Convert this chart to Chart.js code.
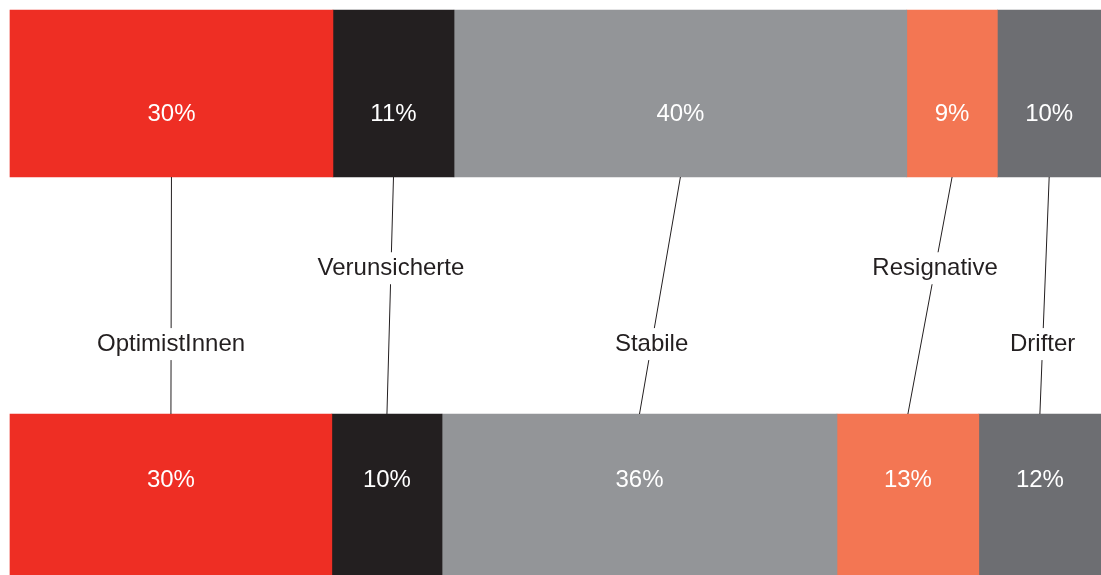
<!DOCTYPE html>
<html lang="de">
<head>
<meta charset="utf-8">
<title>Typen im Vergleich</title>
<script src="https://cdn.jsdelivr.net/npm/chart.js@4/dist/chart.umd.min.js"></script>
<style>
  html, body { margin: 0; padding: 0; background: #fff; }
  #wrap { width: 1101px; height: 575px; position: relative; }
</style>
</head>
<body>
<div id="wrap"><canvas id="chart"></canvas></div>
<script>
// ── Data ──────────────────────────────────────────────────────────────────────
const waves      = ['Erhebung 1', 'Erhebung 2'];
const types      = ['OptimistInnen', 'Verunsicherte', 'Stabile', 'Resignative', 'Drifter'];
// segment shares (top bar / bottom bar)
const sharesTop    = [29.6, 11.1, 41.5, 8.3, 9.5];
const sharesBottom = [29.5, 10.1, 36.2, 13.0, 11.2];
// printed labels
const labelsTop    = ['30%', '11%', '40%', '9%', '10%'];
const labelsBottom = ['30%', '10%', '36%', '13%', '12%'];
const colors = ['#ee2e24', '#231f20', '#939598', '#f37653', '#6d6e72'];

const FONT = '"Liberation Sans", Arial, Helvetica, sans-serif';

// ── Plugin: values inside bars, connectors + type names between bars ─────────
const connectorPlugin = {
  id: 'connectors',
  afterDatasetsDraw(chart) {
    const ctx = chart.ctx;
    const printed = [labelsTop, labelsBottom];
    ctx.save();
    ctx.textAlign = 'center';
    ctx.textBaseline = 'middle';
    ctx.font = '24px ' + FONT;

    // connectors
    chart.data.datasets.forEach((ds, i) => {
      const meta = chart.getDatasetMeta(i);
      const top = meta.data[0], bot = meta.data[1];
      const x0 = (top.x + top.base) / 2, y0 = top.y + top.height / 2;
      const x1 = (bot.x + bot.base) / 2, y1 = bot.y - bot.height / 2;
      ctx.strokeStyle = '#231f20';
      ctx.lineWidth = 1;
      ctx.beginPath();
      ctx.moveTo(x0, y0);
      ctx.lineTo(x1, y1);
      ctx.stroke();

      const t = i % 2 === 0 ? 0.705 : 0.385;
      const lx = x0 + (x1 - x0) * t;
      const ly = y0 + (y1 - y0) * t;
      const w = ctx.measureText(types[i]).width;
      ctx.fillStyle = '#fff';
      ctx.fillRect(lx - w / 2 - 4, ly - 16, w + 8, 32);
      ctx.fillStyle = '#231f20';
      ctx.fillText(types[i], lx, ly);
    });

    // values inside bars, nudged toward the middle
    chart.data.datasets.forEach((ds, i) => {
      const meta = chart.getDatasetMeta(i);
      meta.data.forEach((el, j) => {
        const dy = j === 0 ? 21 : -17;
        ctx.fillStyle = '#fff';
        ctx.fillText(printed[j][i], (el.x + el.base) / 2, el.y + dy);
      });
    });
    ctx.restore();
  }
};

// ── Chart ─────────────────────────────────────────────────────────────────────
new Chart(document.getElementById('chart').getContext('2d'), {
  type: 'bar',
  data: {
    labels: waves,
    datasets: types.map((name, i) => ({
      label: name,
      data: [sharesTop[i], sharesBottom[i]],
      backgroundColor: colors[i],
      borderWidth: 0,
      barThickness: 167,
      clip: false
    }))
  },
  options: {
    indexAxis: 'y',
    responsive: true,
    maintainAspectRatio: false,
    animation: false,
    layout: { padding: { left: 10, right: 0, top: 93.5, bottom: 77.5 } },
    plugins: { legend: { display: false }, tooltip: { enabled: false } },
    scales: {
      x: { stacked: true, min: 0, max: 100, display: false },
      y: { stacked: true, display: false, offset: false }
    }
  },
  plugins: [connectorPlugin]
});
</script>
</body>
</html>
